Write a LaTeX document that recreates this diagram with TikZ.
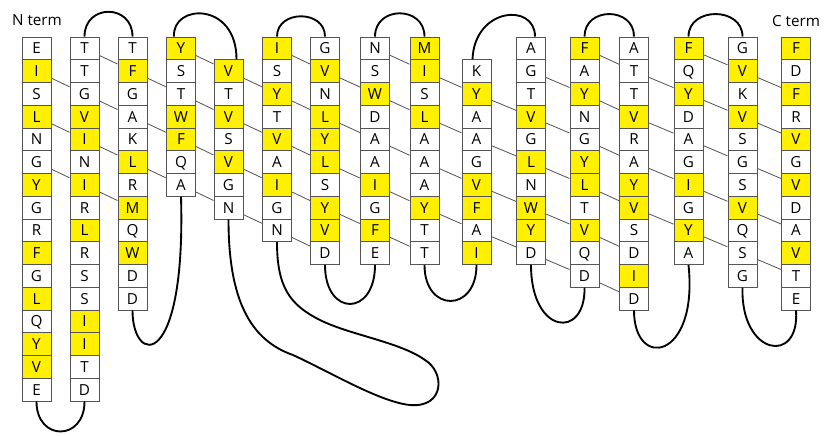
\documentclass[tikz,border=0pt]{standalone}
\usepackage{fontspec}
\setmainfont{Open Sans}
\usepackage{xcolor}
\usetikzlibrary{calc}
\definecolor{hydyellow}{RGB}{255,240,0}
\definecolor{boxgray}{RGB}{85,85,85}

\begin{document}
\begin{tikzpicture}[x=0.03cm, y=-0.03cm, font=\fontsize{13}{15}\selectfont,
			res/.style={draw=boxgray, line width=0.8pt, fill=white, inner sep=0pt,
				minimum width=0.87cm, minimum height=0.6825cm,
				text height=9.4pt, text depth=0pt},
			hyd/.style={res, fill=hydyellow},
			bond/.style={boxgray, line width=0.7pt},
			turn/.style={black, line width=1.6pt}]
			\useasboundingbox (0,0) rectangle (825,435);
			% strands: number, x of the centre, first row, residues from the top
			\foreach \k/\x/\first/\seq in {
				1/36.5/0/{E/res,I/hyd,S/res,L/hyd,N/res,G/res,Y/hyd,G/res,R/res,F/hyd,G/res,L/hyd,Q/res,Y/hyd,V/hyd,E/res},
				2/84.5/0/{T/res,T/res,G/res,V/hyd,I/hyd,N/res,I/hyd,R/res,L/hyd,R/res,S/res,S/res,I/hyd,I/hyd,T/res,D/res},
				3/132.5/0/{T/res,F/hyd,G/res,A/res,K/res,L/hyd,R/res,M/hyd,Q/res,W/hyd,D/res,D/res},
				4/181/0/{Y/hyd,S/res,T/res,W/hyd,F/hyd,Q/res,A/res},
				5/228.5/1/{V/hyd,T/res,V/hyd,S/res,V/hyd,G/res,N/res},
				6/277/0/{I/hyd,S/res,Y/hyd,T/res,V/hyd,A/res,I/hyd,G/res,N/res},
				7/325/0/{G/res,V/hyd,N/res,L/hyd,Y/hyd,L/hyd,S/res,Y/hyd,V/hyd,D/res},
				8/375/0/{N/res,S/res,W/hyd,D/res,A/res,A/res,I/hyd,G/res,F/hyd,E/res},
				9/424.5/0/{M/hyd,I/hyd,S/res,L/hyd,A/res,A/res,A/res,Y/hyd,T/res,T/res},
				10/476.5/1/{K/res,Y/hyd,A/res,A/res,G/res,V/hyd,F/hyd,A/res,I/hyd},
				11/531/0/{A/res,G/res,T/res,V/hyd,G/res,L/hyd,N/res,W/hyd,Y/hyd,D/res},
				12/584.5/0/{F/hyd,A/res,Y/hyd,N/res,G/res,Y/hyd,L/hyd,T/res,V/hyd,Q/res,D/res},
				13/634/0/{A/res,T/res,T/res,V/hyd,R/res,A/res,Y/hyd,V/hyd,S/res,D/res,I/hyd,D/res},
				14/688.5/0/{F/hyd,Q/res,Y/hyd,D/res,A/res,G/res,I/hyd,G/res,Y/hyd,A/res},
				15/742.5/0/{G/res,V/hyd,K/res,V/hyd,S/res,G/res,S/res,V/hyd,Q/res,S/res,G/res},
				16/796/0/{F/hyd,D/res,F/hyd,R/res,V/hyd,G/res,V/hyd,D/res,A/res,V/hyd,T/res,E/res}}
			\foreach \a/\s [count=\r from \first] in \seq
			\node[\s] (c\k r\r) at (\x, {48.375+22.75*\r}) {\a};
			% termini
			\node (nterm) at (37,20.5) {N term};
			\node (cterm) at (796,21) {C term};
			% pairing lines between neighbouring strands (one row down)
			\foreach \k/\rows in {1/{1,3,5}, 2/{0,2,4,6}, 3/{1,3,5}, 4/{0,2,4,6},
				5/{1,3,5,7}, 6/{0,2,4,6,8}, 7/{1,3,5,7}, 8/{0,2,4,6,8}, 9/{1,3,5,7},
				10/{2,4,6,8}, 11/{1,3,5,7,9}, 12/{0,2,4,6,8,10}, 13/{1,3,5,7},
				14/{0,2,4,6,8}, 15/{1,3,5,7,9}}
			\foreach \r in \rows {
				\pgfmathtruncatemacro{\kn}{\k+1}
				\pgfmathtruncatemacro{\rn}{\r+1}
				\draw[bond] (c\k r\r) -- (c\kn r\rn);
			}
			% turns on top
			\draw[turn] (c2r0.north) .. controls +(0,-33) and +(0,-33) .. (c3r0.north);
			\draw[turn] ($(c4r0.north)+(-7,0)$) .. controls +(-2,-33) and +(0,-58) .. ($(c5r1.north)+(8,0)$);
			\draw[turn] (c6r0.north) .. controls +(0,-27) and +(0,-27) .. (c7r0.north);
			\draw[turn] (c8r0.north) .. controls +(0,-31) and +(0,-31) .. (c9r0.north);
			\draw[turn] ($(c10r1.north)+(-4,0)$) .. controls +(2,-52) and +(0,-34) .. ($(c11r0.north)+(4,0)$);
			\draw[turn] (c12r0.north) .. controls +(0,-30) and +(0,-30) .. (c13r0.north);
			\draw[turn] (c14r0.north) .. controls +(0,-30) and +(0,-30) .. (c15r0.north);
			% turns at the bottom
			\draw[turn] (c1r15.south) .. controls +(0,40) and +(0,40) .. (c2r15.south);
			\draw[turn] (c3r11.south) .. controls +(0,55) and +(5,175) .. (c4r6.south);
			\draw[turn] (c5r7.south) .. controls +(0,80) and (250,340) .. (293,355)
			.. controls (330,372) and (380,402) .. (410,405)
			.. controls (445,408) and (445,372) .. (425,360)
			.. controls (400,342) and (350,335) .. (320,320)
			.. controls (290,305) and +(0,45) .. (c6r8.south);
			\draw[turn] (c7r9.south) .. controls +(0,52) and +(0,52) .. (c8r9.south);
			\draw[turn] (c9r9.south) .. controls +(0,48) and +(0,48) .. (c10r9.south);
			\draw[turn] (c11r9.south) .. controls +(0,70) and +(1,52) .. (c12r10.south);
			\draw[turn] (c13r11.south) .. controls +(0,60) and +(10,95) .. (c14r9.south);
			\draw[turn] (c15r10.south) .. controls +(-2,68) and +(4,55) .. (c16r11.south);
		\end{tikzpicture}
\end{document}
